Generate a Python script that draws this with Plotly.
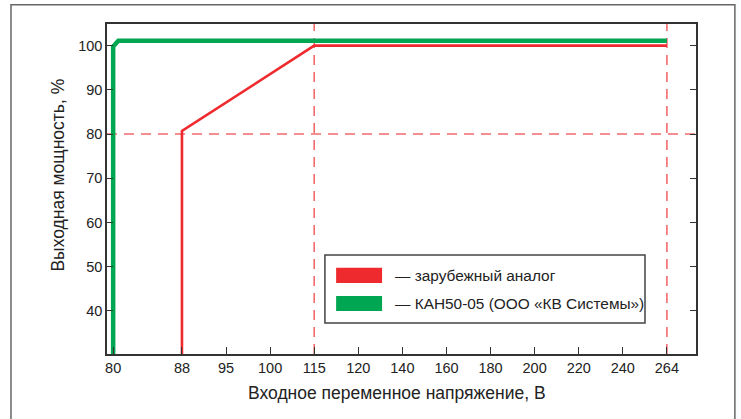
import numpy as np
import plotly.graph_objects as go

# ---- data ----
tick_values = [80, 88, 95, 100, 115, 120, 140, 160, 180, 200, 220, 240, 264]
y_ticks = [40, 50, 60, 70, 80, 90, 100]

red_name = "— зарубежный аналог"
red_v = [88, 88, 115, 264]
red_p = [30, 80.7, 100, 100]

green_name = "— КАН50-05 (ООО «КВ Системы»)"
green_v = [80, 80, 80.6, 264]
green_p = [30, 99.8, 101.1, 101.1]

ref_power = 80
ref_voltages = [115, 264]

# ---- non-uniform display scale (ticks evenly spaced, 80 set apart) ----
tick_slots = [-0.56] + list(range(1, len(tick_values)))


def to_axis(v):
    return np.interp(v, tick_values, tick_slots)


RED = "#ee2a2e"
GREEN = "#00a651"
DASH = "#f26a6e"
FONT = "Liberation Sans, Arial, sans-serif"

fig = go.Figure()
fig.add_trace(go.Scatter(x=to_axis(red_v), y=red_p, mode="lines",
                         line=dict(color=RED, width=2.6), showlegend=False,
                         hoverinfo="skip"))
fig.add_trace(go.Scatter(x=to_axis(green_v), y=green_p, mode="lines",
                         line=dict(color=GREEN, width=4.5), showlegend=False,
                         hoverinfo="skip"))

shapes = []
# reference dashed lines
shapes.append(dict(type="line", xref="paper", yref="y", x0=0, x1=1,
                   y0=ref_power, y1=ref_power,
                   line=dict(color=DASH, width=1.6, dash="10px,7px"), layer="below"))
for v in ref_voltages:
    xv = float(to_axis(v))
    shapes.append(dict(type="line", xref="x", yref="paper", x0=xv, x1=xv, y0=0, y1=1,
                       line=dict(color=DASH, width=1.6, dash="10px,7px"), layer="below"))

# outer frame
shapes.append(dict(type="rect", xref="paper", yref="paper", x0=-0.163, x1=1.066,
                   y0=-0.4, y1=1.0585, line=dict(color="#666666", width=1.5)))

# legend box and swatches
shapes.append(dict(type="rect", xref="paper", yref="paper", x0=0.370, x1=0.9134,
                   y0=0.094, y1=0.300, line=dict(color="#444444", width=1.5),
                   fillcolor="white"))
shapes.append(dict(type="rect", xref="paper", yref="paper", x0=0.389, x1=0.467,
                   y0=0.215, y1=0.261, line=dict(width=0), fillcolor=RED))
shapes.append(dict(type="rect", xref="paper", yref="paper", x0=0.389, x1=0.467,
                   y0=0.130, y1=0.176, line=dict(width=0), fillcolor=GREEN))

annotations = [
    dict(text=red_name, xref="paper", yref="paper", x=0.4856, y=0.238,
         xanchor="left", yanchor="middle", showarrow=False,
         font=dict(family=FONT, size=15.4, color="#222222")),
    dict(text=green_name, xref="paper", yref="paper", x=0.4856, y=0.153,
         xanchor="left", yanchor="middle", showarrow=False,
         font=dict(family=FONT, size=15.4, color="#222222")),
    dict(text="Входное переменное напряжение, В", xref="paper", yref="paper",
         x=0.492, y=-0.118, xanchor="center", yanchor="middle", showarrow=False,
         font=dict(family=FONT, size=17.5, color="#222222")),
    dict(text="Выходная мощность, %", xref="paper", yref="paper",
         x=-0.083, y=0.541, xanchor="center", yanchor="middle", showarrow=False,
         textangle=-90, font=dict(family=FONT, size=17.5, color="#222222")),
]

fig.update_layout(
    width=741, height=419,
    margin=dict(l=107, r=45, t=24, b=65),
    paper_bgcolor="white", plot_bgcolor="white",
    font=dict(family=FONT, size=14.5, color="#222222"),
    shapes=shapes, annotations=annotations, showlegend=False,
)
fig.update_xaxes(
    range=[-0.70, 12.66], tickmode="array",
    tickvals=tick_slots, ticktext=[str(v) for v in tick_values],
    showgrid=False, zeroline=False,
    showline=True, linecolor="#333333", linewidth=1.5, mirror=True,
    ticks="inside", ticklen=7, tickwidth=1.2, tickcolor="#333333",
)
fig.update_yaxes(
    range=[30.25, 104.9], tickmode="array", tickvals=y_ticks,
    showgrid=False, zeroline=False,
    showline=True, linecolor="#333333", linewidth=1.5, mirror="ticks",
    ticks="inside", ticklen=6, tickwidth=1.2, tickcolor="#333333",
)

fig.write_html("out.html",
               config={"displayModeBar": False},
               post_script="document.body.style.margin='0';document.body.style.overflow='hidden';")
